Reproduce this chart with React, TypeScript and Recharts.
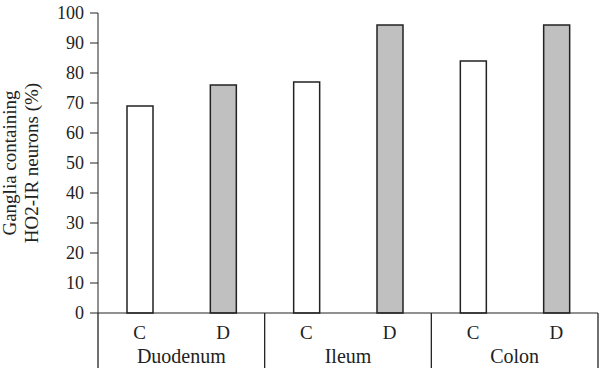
import React from 'react';
import { BarChart, Bar, XAxis, YAxis, Cell } from 'recharts';

const regions = ['Duodenum', 'Ileum', 'Colon'];
const conditions = ['C', 'D'];
const values = [69, 76, 77, 96, 84, 96];
const yTicks = [0, 10, 20, 30, 40, 50, 60, 70, 80, 90, 100];

const data = values.map((v, i) => ({
  key: `${regions[Math.floor(i / 2)]}-${conditions[i % 2]}`,
  cond: conditions[i % 2],
  region: regions[Math.floor(i / 2)],
  value: v,
}));

const FONT = '"Liberation Serif", "DejaVu Serif", serif';
const INK = '#222';
const CD_H = 26;

const GroupTick = (props: any) => {
  const { x, y, payload, index } = props;
  const half = payload.offset || 0;
  const top = y - CD_H;
  const bottom = y + 29;
  return (
    <g>
      {index % 2 === 0 && (
        <>
          <line x1={x - half} x2={x - half} y1={top} y2={bottom} stroke={INK} strokeWidth={1.3} />
          <text x={x + half} y={y + 24} textAnchor="middle" fontFamily={FONT} fontSize={20} fill={INK}>
            {data[index].region}
          </text>
        </>
      )}
      {index === data.length - 1 && (
        <line x1={x + half} x2={x + half} y1={top} y2={bottom} stroke={INK} strokeWidth={1.3} />
      )}
    </g>
  );
};

const YLabel = (props: any) => {
  const { viewBox } = props;
  const cy = viewBox.y + viewBox.height / 2;
  return (
    <g>
      <text x={16} y={cy} transform={`rotate(-90, 16, ${cy})`} textAnchor="middle" fontFamily={FONT} fontSize={19} fill={INK}>
        Ganglia containing
      </text>
      <text x={38} y={cy} transform={`rotate(-90, 38, ${cy})`} textAnchor="middle" fontFamily={FONT} fontSize={19} fill={INK}>
        HO2-IR neurons (%)
      </text>
    </g>
  );
};

export default function App() {
  return (
    <div style={{ position: 'absolute', left: 0, top: 0, background: '#fff' }}>
      <BarChart width={600} height={374} data={data} margin={{ top: 13, right: 2, bottom: 0, left: 0 }}>
        <YAxis
          width={98}
          domain={[0, 100]}
          ticks={yTicks}
          interval={0}
          tickSize={8}
          tickMargin={6}
          stroke={INK}
          tick={{ fill: INK, fontFamily: FONT, fontSize: 18 }}
          label={{ content: YLabel }}
        />
        <XAxis
          dataKey="key"
          height={CD_H}
          tickFormatter={(_v: any, i: number) => data[i].cond}
          tickLine={false}
          tickSize={0}
          tickMargin={13}
          interval={0}
          stroke={INK}
          tick={{ fill: INK, fontFamily: FONT, fontSize: 19 }}
        />
        <XAxis
          dataKey="key"
          xAxisId="grp"
          height={35}
          axisLine={false}
          tickLine={false}
          tickSize={0}
          tickMargin={0}
          interval={0}
          tick={<GroupTick />}
        />
        <Bar dataKey="value" barSize={26} stroke={INK} strokeWidth={1.5} isAnimationActive={false}>
          {data.map((d) => (
            <Cell key={d.key} fill={d.cond === 'D' ? '#c0c0c0' : '#ffffff'} />
          ))}
        </Bar>
      </BarChart>
    </div>
  );
}
